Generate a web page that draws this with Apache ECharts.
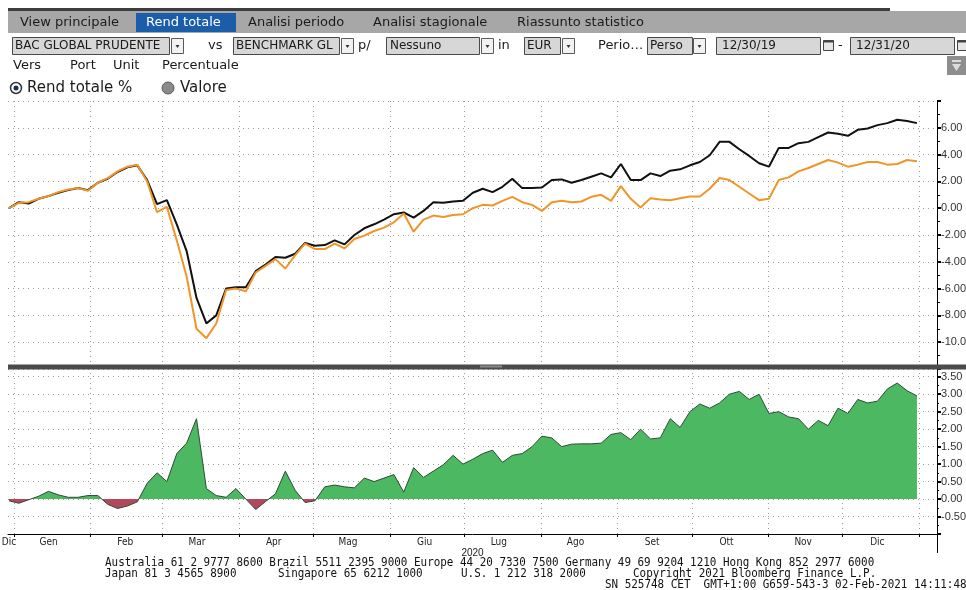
<!DOCTYPE html>
<html>
<head>
<meta charset="utf-8">
<script src="https://cdn.jsdelivr.net/npm/echarts@6/dist/echarts.min.js"></script>
<style>
html, body { margin: 0; padding: 0; background: #fff; }
#main { width: 966px; height: 590px; }
</style>
</head>
<body>
<div id="main"></div>
<script>
// rendimento totale %, un punto ogni ~4 giorni dal 30/12/19 al 31/12/20
const startDay = new Date(2019, 11, 30).getTime();
const endDay = new Date(2020, 11, 31).getTime();

const fund = [0.0, 0.45, 0.35, 0.7, 0.9, 1.15, 1.35, 1.5, 1.35, 1.9,
  2.2, 2.7, 3.05, 3.2, 2.1, 0.3, 0.6, -1.2, -3.2, -6.7,
  -8.6, -8.0, -6.0, -5.9, -5.9, -4.7, -4.2, -3.65, -3.7, -3.4,
  -2.6, -2.8, -2.75, -2.4, -2.7, -2.0, -1.5, -1.2, -0.85, -0.45,
  -0.32, -0.7, -0.2, 0.45, 0.4, 0.5, 0.55, 1.15, 1.45, 1.2,
  1.6, 2.2, 1.5, 1.5, 1.55, 2.1, 2.15, 1.9, 2.1, 2.35,
  2.6, 2.3, 3.3, 2.1, 2.1, 2.6, 2.4, 2.8, 2.9, 3.2,
  3.45, 3.95, 4.95, 4.95, 4.4, 3.9, 3.35, 3.1, 4.5, 4.5,
  4.85, 4.95, 5.3, 5.65, 5.55, 5.4, 5.85, 5.95, 6.2, 6.35,
  6.6, 6.5, 6.35];

const bench = [0.0, 0.4, 0.45, 0.7, 0.9, 1.2, 1.4, 1.5, 1.3, 1.9,
  2.25, 2.75, 3.1, 3.25, 2.0, -0.3, 0.1, -2.4, -5.1, -9.0,
  -9.7, -8.6, -6.1, -6.0, -6.2, -4.8, -4.3, -3.8, -4.5, -3.5,
  -2.65, -3.05, -3.05, -2.65, -3.0, -2.3, -2.05, -1.7, -1.45, -1.05,
  -0.4, -1.75, -0.85, -0.55, -0.65, -0.5, -0.45, 0.0, 0.25, 0.2,
  0.55, 0.85, 0.45, 0.25, -0.2, 0.45, 0.55, 0.45, 0.5, 0.85,
  1.0, 0.55, 1.65, 0.7, 0.05, 0.75, 0.65, 0.6, 0.75, 0.87,
  0.87, 1.45, 2.25, 2.1, 1.6, 1.1, 0.6, 0.7, 2.1, 2.3,
  2.75, 3.0, 3.3, 3.6, 3.4, 3.1, 3.25, 3.45, 3.45, 3.25,
  3.3, 3.6, 3.5];

const spread = [-0.05, -0.12, -0.02, 0.08, 0.22, 0.12, 0.05, 0.05, 0.1, 0.1,
  -0.15, -0.27, -0.2, -0.08, 0.45, 0.75, 0.5, 1.3, 1.6, 2.3,
  0.3, 0.1, 0.05, 0.3, 0.0, -0.3, -0.07, 0.15, 0.8, 0.25,
  -0.1, -0.05, 0.35, 0.4, 0.35, 0.32, 0.6, 0.5, 0.6, 0.7,
  0.2, 0.9, 0.62, 0.8, 0.98, 1.25, 1.0, 1.14, 1.3, 1.4,
  1.05, 1.25, 1.3, 1.5, 1.8, 1.75, 1.5, 1.57, 1.58, 1.58,
  1.6, 1.85, 1.9, 1.7, 2.0, 1.72, 1.75, 2.3, 2.05, 2.5,
  2.72, 2.6, 2.75, 3.0, 3.08, 2.85, 3.0, 2.45, 2.5, 2.35,
  2.3, 2.0, 2.25, 2.1, 2.6, 2.45, 2.85, 2.75, 2.8, 3.15,
  3.32, 3.1, 2.95];

const monthNames = ['Dic', 'Gen', 'Feb', 'Mar', 'Apr', 'Mag', 'Giu', 'Lug', 'Ago', 'Set', 'Ott', 'Nov', 'Dic'];
const monthLabelDays = [[2019, 11, 30], [2020, 0, 15], [2020, 1, 15], [2020, 2, 15], [2020, 3, 15], [2020, 4, 15],
  [2020, 5, 15], [2020, 6, 15], [2020, 7, 15], [2020, 8, 15], [2020, 9, 15], [2020, 10, 15], [2020, 11, 15]];
const monthStartDays = [[2020, 0, 1], [2020, 1, 1], [2020, 2, 1], [2020, 3, 1], [2020, 4, 1], [2020, 5, 1], [2020, 6, 1],
  [2020, 7, 1], [2020, 8, 1], [2020, 9, 1], [2020, 10, 1], [2020, 11, 1], [2021, 0, 1]];

const DAY = 86400000;
const step = (endDay - startDay) / (fund.length - 1);
const dates = fund.map((_, i) => startDay + i * step);
const xMin = startDay - 0.4 * DAY;
const xMax = startDay + 375.1 * DAY;

const labelDates = monthLabelDays.map(d => new Date(d[0], d[1], d[2]).getTime());
const monthStarts = monthStartDays.map(d => new Date(d[0], d[1], d[2]).getTime());
const nameByTime = {};
labelDates.forEach((t, i) => { nameByTime[t] = monthNames[i]; });

const pair = arr => arr.map((v, i) => [dates[i], v]);

// verde sopra lo zero, rosso sotto: il punto di taglio nel riquadro dell'area
const hi = Math.max(...spread), lo = Math.min(...spread);
const cut = hi / (hi - lo);
const GREEN = '#4cb862', RED = '#b2485b';
const areaFill = new echarts.graphic.LinearGradient(0, 0, 0, 1, [
  { offset: 0, color: GREEN }, { offset: cut, color: GREEN },
  { offset: cut, color: RED }, { offset: 1, color: RED }
]);

const UI = '"DejaVu Sans", sans-serif';
const AX = '"Liberation Sans", Arial, sans-serif';
const MONO = '"DejaVu Sans Mono", monospace';
const dotted = { type: [1, 4], color: '#9c9c9c', width: 1 };

function txt(x, y, s, size, color, extra) {
  return Object.assign({
    type: 'text', x: x, y: y, silent: true, z: 100,
    style: { text: s, font: size + 'px ' + UI, fill: color || '#1a1a1a',
      align: 'left', verticalAlign: 'middle', textAlign: 'left', textVerticalAlign: 'middle' }
  }, extra || {});
}
function box(x, y, w, h, fill, stroke) {
  return { type: 'rect', silent: true, z: 100, shape: { x: x, y: y, width: w, height: h },
    style: { fill: fill, stroke: stroke || null, lineWidth: stroke ? 1 : 0 } };
}
function drop(x) {
  return [box(x + 0.5, 38.5, 12, 15, '#f2f2f2', '#5a5a5a'),
    { type: 'polygon', silent: true, z: 101, shape: { points: [[x + 4.5, 45], [x + 8.5, 45], [x + 6.5, 48]] }, style: { fill: '#333' } }];
}
function cal(x) {
  return [box(x + 0.5, 40.5, 10, 10, '#e6e6e6', '#444'), box(x + 0.5, 40.5, 10, 2, '#444')];
}

const ui = [
  // barra schede
  box(8, 8, 882, 3, '#3d3d3d'),
  box(8, 11, 958, 22, '#a7a7a7'),
  box(136, 13, 100, 19, '#1b5da8'),
  txt(20, 22.5, 'View principale', 13),
  txt(146, 22.5, 'Rend totale', 13, '#ffffff'),
  txt(248, 22.5, 'Analisi periodo', 13),
  txt(373, 22.5, 'Analisi stagionale', 13),
  txt(517, 22.5, 'Riassunto statistico', 13),
  // riga selettori
  box(12.5, 37.5, 157, 17, '#d7d7d7', '#4a4a4a'),
  txt(15, 46, 'BAC GLOBAL PRUDENTE', 12),
  ...drop(171),
  txt(208, 46, 'vs', 13),
  box(233.5, 37.5, 106, 17, '#d7d7d7', '#4a4a4a'),
  txt(236, 46, 'BENCHMARK GLOBAL', 12, null, { style: { text: 'BENCHMARK GLOBAL', font: '12px ' + UI, fill: '#1a1a1a',
    width: 103, overflow: 'truncate', ellipsis: '', align: 'left', verticalAlign: 'middle', textAlign: 'left', textVerticalAlign: 'middle' } }),
  ...drop(341),
  txt(358, 46, 'p/', 13),
  box(386.5, 37.5, 93, 17, '#d7d7d7', '#4a4a4a'),
  txt(390, 46, 'Nessuno', 12),
  ...drop(481),
  txt(498, 46, 'in', 13),
  box(524.5, 37.5, 36, 17, '#d7d7d7', '#4a4a4a'),
  txt(527, 46, 'EUR', 12),
  ...drop(562),
  txt(598, 46, 'Perio\u2026', 13),
  box(647.5, 37.5, 45, 17, '#d7d7d7', '#4a4a4a'),
  txt(650, 46, 'Perso', 12),
  ...drop(693),
  box(716.5, 37.5, 104, 17, '#d7d7d7', '#4a4a4a'),
  txt(722, 46, '12/30/19', 12),
  ...cal(823),
  txt(838, 46, '-', 13),
  box(850.5, 37.5, 104, 17, '#d7d7d7', '#4a4a4a'),
  txt(856, 46, '12/31/20', 12),
  ...cal(957),
  // riga unità
  txt(13, 66, 'Vers', 13),
  txt(70, 66, 'Port', 13),
  txt(113, 66, 'Unit', 13),
  txt(162, 66, 'Percentuale', 13),
  box(947, 56, 19, 19, '#8e8e8e'),
  box(952, 60, 9, 2, '#dcdcdc'),
  { type: 'polygon', silent: true, z: 101, shape: { points: [[952, 64], [961, 64], [956.5, 71]] }, style: { fill: '#dcdcdc' } },
  // scelta vista
  { type: 'circle', silent: true, z: 100, shape: { cx: 16, cy: 88, r: 5.5 }, style: { fill: '#fff', stroke: '#333', lineWidth: 1.5 } },
  { type: 'circle', silent: true, z: 101, shape: { cx: 16, cy: 88, r: 2.5 }, style: { fill: '#1a2f55' } },
  txt(27, 88, 'Rend totale %', 15),
  { type: 'circle', silent: true, z: 100, shape: { cx: 168, cy: 88, r: 6 }, style: { fill: '#8a8a8a', stroke: '#555', lineWidth: 1 } },
  txt(180, 88, 'Valore', 15),
  // separatore tra i pannelli
  box(8, 364.5, 958, 5, '#4b4b4b'),
  box(480, 365.5, 22, 2, '#8a8a8a'),
  { type: 'line', silent: true, z: 100, shape: { x1: 937.5, y1: 534, x2: 937.5, y2: 553 }, style: { stroke: '#000', lineWidth: 1 } }
];

// piè di pagina Bloomberg
const footer = [
  [105, 563, 'Australia 61 2 9777 8600 Brazil 5511 2395 9000 Europe 44 20 7330 7500 Germany 49 69 9204 1210 Hong Kong 852 2977 6000'],
  [105, 574, 'Japan 81 3 4565 8900'],
  [278, 574, 'Singapore 65 6212 1000'],
  [461, 574, 'U.S. 1 212 318 2000'],
  [633, 574, 'Copyright 2021 Bloomberg Finance L.P.'],
  [605, 585, 'SN 525748 CET  GMT+1:00 G659-543-3 02-Feb-2021 14:11:48']
];
footer.forEach(f => {
  ui.push({ type: 'text', x: f[0], y: f[1], scaleX: 0.91, silent: true, z: 100,
    style: { text: f[2], font: '12px ' + MONO, fill: '#111', align: 'left', verticalAlign: 'middle', textAlign: 'left', textVerticalAlign: 'middle' } });
});

const chart = echarts.init(document.getElementById('main'));

const option = {
  animation: false,
  backgroundColor: '#ffffff',
  grid: [
    { left: 8, right: 29, top: 101, height: 268, outerBoundsMode: 'none' },
    { left: 8, right: 29, top: 368, height: 166, outerBoundsMode: 'none' }
  ],
  xAxis: [
    {
      type: 'value', gridIndex: 0, min: xMin, max: xMax,
      axisLine: { show: false },
      axisTick: { show: false, customValues: monthStarts },
      axisLabel: { show: false },
      splitLine: { show: true, lineStyle: dotted }
    },
    {
      type: 'value', gridIndex: 1, min: xMin, max: xMax,
      axisLine: { show: true, onZero: false, lineStyle: { color: '#000', width: 1 } },
      axisTick: { show: true, customValues: monthStarts, length: 3, lineStyle: { color: '#000' } },
      axisLabel: {
        customValues: labelDates,
        formatter: v => nameByTime[v] || '',
        fontSize: 10, color: '#222', margin: 3,
        fontFamily: '"Liberation Sans Narrow", "DejaVu Sans Condensed", ' + AX
      },
      splitLine: { show: true, lineStyle: dotted },
      name: '2020', nameLocation: 'middle', nameGap: 13,
      nameTextStyle: { fontSize: 10, color: '#222', fontFamily: '"Liberation Sans Narrow", ' + AX }
    }
  ],
  yAxis: [
    {
      type: 'value', gridIndex: 0, position: 'right', min: -12, max: 8, interval: 2,
      axisLine: { show: true, lineStyle: { color: '#000' } },
      axisTick: { show: true, length: 4, lineStyle: { color: '#000', width: 2 } },
      minorTick: { show: true, splitNumber: 2, length: 3, lineStyle: { color: '#000' } },
      axisLabel: { formatter: v => (v === 8 || v === -12) ? '' : v.toFixed(2), color: '#333', fontSize: 11, margin: 4, fontFamily: AX },
      splitLine: { show: true, lineStyle: dotted }
    },
    {
      type: 'value', gridIndex: 1, position: 'right', min: -1, max: 3.75, interval: 0.5,
      axisLine: { show: true, lineStyle: { color: '#000' } },
      axisTick: { show: true, length: 4, lineStyle: { color: '#000', width: 2 } },
      minorTick: { show: true, splitNumber: 2, length: 2, lineStyle: { color: '#000' } },
      axisLabel: { formatter: v => (v < -0.75 || v > 3.6) ? '' : v.toFixed(2), color: '#333', fontSize: 11, margin: 4, fontFamily: AX },
      splitLine: { show: true, lineStyle: dotted }
    }
  ],
  series: [
    { name: 'BAC GLOBAL PRUDENTE', type: 'line', xAxisIndex: 0, yAxisIndex: 0, data: pair(fund),
      showSymbol: false, symbol: 'none', lineStyle: { color: '#111', width: 2 }, itemStyle: { color: '#111' } },
    { name: 'BENCHMARK GLOBAL', type: 'line', xAxisIndex: 0, yAxisIndex: 0, data: pair(bench),
      showSymbol: false, symbol: 'none', lineStyle: { color: '#f0952a', width: 2 }, itemStyle: { color: '#f0952a' } },
    { name: 'Differenza', type: 'line', xAxisIndex: 1, yAxisIndex: 1, data: pair(spread),
      showSymbol: false, symbol: 'none',
      lineStyle: { color: '#2f4a36', width: 1 }, itemStyle: { color: '#2f4a36' },
      areaStyle: { color: areaFill, opacity: 1, origin: 0 } }
  ],
  graphic: ui
};

chart.setOption(option);
</script>
</body>
</html>
